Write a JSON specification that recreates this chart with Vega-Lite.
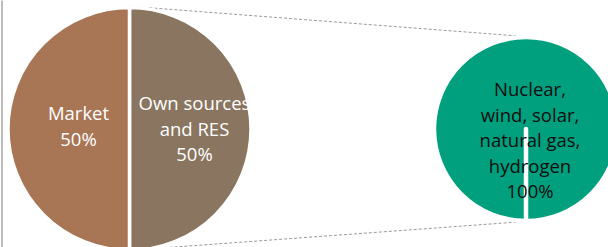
{
  "$schema": "https://vega.github.io/schema/vega-lite/v6.json",
  "width": 608,
  "height": 258,
  "padding": 0,
  "autosize": {"type": "none"},
  "background": "white",
  "config": {"view": {"stroke": null}, "font": "Open Sans"},
  "datasets": {
    "primary": [
      {"pie": "Primary", "category": "Own sources and RES", "label": "Own sources\nand RES", "share": 50},
      {"pie": "Primary", "category": "Market", "label": "Market", "share": 50}
    ],
    "secondary": [
      {"pie": "Secondary", "category": "Nuclear, wind, solar, natural gas, hydrogen", "label": "Nuclear,\nwind, solar,\nnatural gas,\nhydrogen", "share": 100},
      {"pie": "Secondary", "category": "Other", "label": "", "share": 0}
    ],
    "connectors": [
      {"link": "top", "pie": "Primary", "level": 1.023},
      {"link": "top", "pie": "Secondary", "level": 0.77},
      {"link": "bottom", "pie": "Primary", "level": -1.011},
      {"link": "bottom", "pie": "Secondary", "level": -0.77}
    ]
  },
  "resolve": {"scale": {"theta": "independent"}},
  "layer": [
    {
      "data": {"name": "connectors"},
      "mark": {"type": "line", "strokeDash": [3, 2], "color": "#9a9a9a", "strokeWidth": 1},
      "encoding": {
        "x": {"field": "pie", "type": "nominal", "scale": {"type": "point", "domain": ["Primary", "Secondary"], "padding": 0.2667, "align": 0.6123}, "axis": null},
        "y": {"field": "level", "type": "quantitative", "scale": {"domain": [-1.075, 1.075], "nice": false, "zero": false},
              "axis": {"orient": "left", "labels": false, "ticks": false, "title": null, "grid": false, "domainColor": "#a6a6a6", "domainWidth": 1.5, "offset": -1.5}},
        "detail": {"field": "link", "type": "nominal"}
      }
    },
    {
      "data": {"name": "primary"},
      "mark": {"type": "arc", "outerRadius": 121.5, "stroke": "white", "strokeWidth": 3.5},
      "encoding": {
        "x": {"field": "pie", "type": "nominal"},
        "theta": {"field": "share", "type": "quantitative", "stack": true},
        "order": {"field": "category", "type": "nominal", "sort": "descending"},
        "color": {"field": "category", "type": "nominal", "legend": null,
                  "scale": {"domain": ["Market", "Own sources and RES", "Nuclear, wind, solar, natural gas, hydrogen", "Other"],
                            "range": ["#a87555", "#8a7560", "#00a07f", "#00a07f"]}}
      }
    },
    {
      "data": {"name": "primary"},
      "transform": [{"calculate": "datum.label + '\\n' + datum.share + '%'", "as": "text"}],
      "mark": {"type": "text", "radius": {"expr": "datum.category == 'Market' ? 51 : 65"}, "dy": {"expr": "datum.category == 'Market' ? -15 : -25"}, "fill": "white", "fontSize": 18.5, "lineHeight": 25.5, "lineBreak": "\n", "align": "center", "baseline": "middle"},
      "encoding": {
        "x": {"field": "pie", "type": "nominal"},
        "theta": {"field": "share", "type": "quantitative", "stack": true},
        "order": {"field": "category", "type": "nominal", "sort": "descending"},
        "text": {"field": "text", "type": "nominal"}
      }
    },
    {
      "data": {"name": "secondary"},
      "mark": {"type": "arc", "outerRadius": 92, "stroke": "white", "strokeWidth": 4.5, "strokeJoin": "round"},
      "encoding": {
        "x": {"field": "pie", "type": "nominal"},
        "theta": {"field": "share", "type": "quantitative", "stack": true, "scale": {"range": [3.14159, 9.42478]}},
        "order": {"field": "category", "type": "nominal", "sort": "ascending"},
        "color": {"field": "category", "type": "nominal", "legend": null}
      }
    },
    {
      "data": {"name": "secondary"},
      "transform": [
        {"filter": "datum.share > 0"},
        {"calculate": "datum.label + '\\n' + datum.share + '%'", "as": "text"}
      ],
      "mark": {"type": "text", "dx": 4, "dy": -39, "fill": "#0d0d0d", "fontSize": 18.5, "lineHeight": 25.5, "lineBreak": "\n", "align": "center", "baseline": "middle"},
      "encoding": {
        "x": {"field": "pie", "type": "nominal"},
        "text": {"field": "text", "type": "nominal"}
      }
    }
  ]
}
